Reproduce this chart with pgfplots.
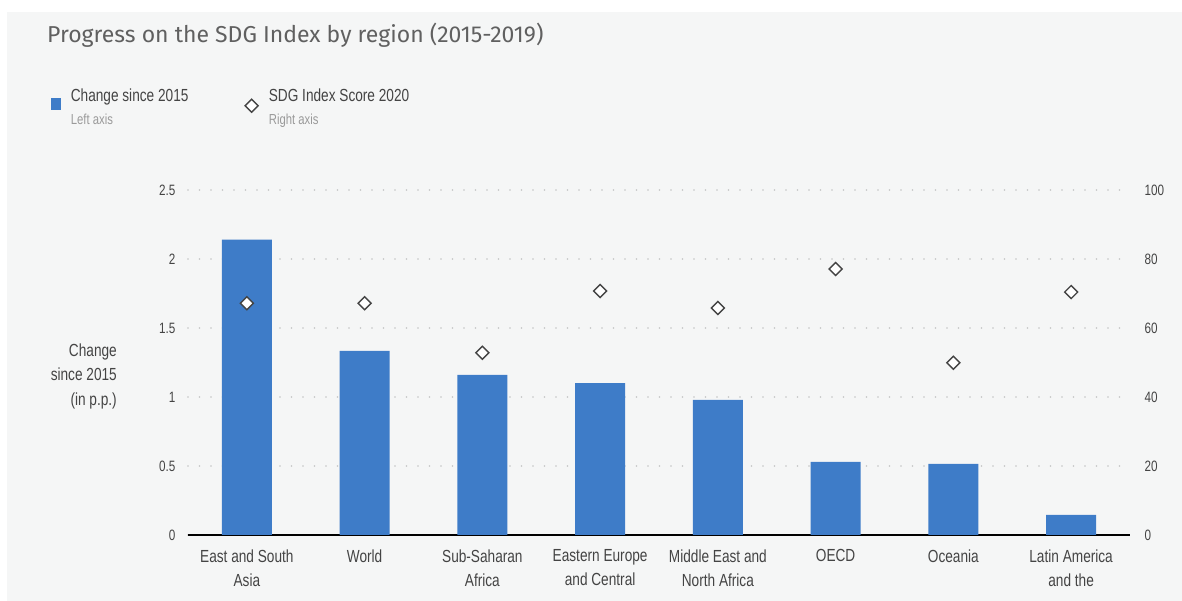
\documentclass[border=0pt]{standalone}
\usepackage{pgfplots}
\pgfplotsset{compat=1.18}
\usepackage{fontspec}
\setmainfont[FakeStretch=0.78]{Liberation Sans}
\newfontfamily\titlefont{Fira Sans}
\definecolor{bg}{HTML}{F5F6F6}
\definecolor{barblue}{HTML}{3E7CC8}
\definecolor{txt}{HTML}{444444}
\definecolor{ltxt}{HTML}{9A9A9A}
\definecolor{gridc}{HTML}{C4C4C4}
\begin{document}
\begin{tikzpicture}[x=1pt,y=1pt]
\path[use as bounding box] (0,0) rectangle (1182,601);
\fill[white] (0,0) rectangle (1182,601);
\fill[bg] (7,0) rectangle (1182,589);
\node[anchor=west, text=txt!85, font=\titlefont\fontsize{23}{26}\selectfont, inner sep=0pt] at (47,566) {Progress on the SDG Index by region (2015-2019)};
\node[anchor=east, align=right, text=txt, font=\fontsize{17.5}{24.5}\selectfont, inner sep=0pt] at (117,225) {Change\\since 2015\\(in p.p.)};
\begin{axis}[
  at={(188pt,66pt)}, anchor=south west,
  scale only axis, width=942pt, height=345pt,
  xmin=-0.5, xmax=7.5, ymin=0, ymax=2.5,
  axis x line*=bottom, axis y line*=left,
  x axis line style={line width=2pt, black, -},
  y axis line style={draw=none},
  major tick length=0pt,
  ytick={0,0.5,1,1.5,2,2.5},
  xtick={0,...,7},
  xticklabels={East and South\\Asia, World, Sub-Saharan\\Africa, Eastern Europe\\and Central, Middle East and\\North Africa, OECD, Oceania, Latin America\\and the},
  xticklabel style={align=center, font=\fontsize{17.5}{24}\selectfont, text=txt, yshift=-11pt},
  yticklabel style={font=\fontsize{15}{16}\selectfont, text=txt, xshift=-9pt},
  /pgf/number format/assume math mode=true,
  ymajorgrids,
  grid style={gridc, line width=1.8pt, line cap=round, dash pattern=on 0pt off 11.5pt},
  ybar, bar width=50pt,
  legend columns=2,
  legend style={at={(-0.149,1.306)}, anchor=north west, draw=none, fill=none,
    font=\fontsize{17.5}{18}\selectfont, text=txt,
    nodes={align=left, inner xsep=10pt},
    /tikz/every even column/.append style={column sep=46pt}},
  legend cell align=left,
]
\addplot[fill=barblue, draw=none, area legend,
  legend image code/.code={\fill[barblue] (0pt,-3pt) rectangle (10pt,9pt);}]
  coordinates {(0,2.14) (1,1.335) (2,1.16) (3,1.10) (4,0.98) (5,0.53) (6,0.515) (7,0.145)};
\addlegendentry{Change since 2015\\[5pt]{\fontsize{14.5}{16}\selectfont\color{ltxt}Left axis}}
\addlegendimage{legend image code/.code={\draw[txt, line width=1.4pt, fill=white] (4.5pt,8pt) -- (11pt,1.5pt) -- (4.5pt,-5pt) -- (-2pt,1.5pt) -- cycle;}}
\addlegendentry{SDG Index Score 2020\\[5pt]{\fontsize{14.5}{16}\selectfont\color{ltxt}Right axis}}
\end{axis}
\begin{axis}[
  at={(188pt,66pt)}, anchor=south west,
  scale only axis, width=942pt, height=345pt,
  xmin=-0.5, xmax=7.5, ymin=0, ymax=100,
  axis x line=none, axis y line*=right,
  y axis line style={draw=none},
  major tick length=0pt,
  ytick={0,20,...,100},
  yticklabel style={font=\fontsize{15}{16}\selectfont, text=txt, xshift=11pt},
  /pgf/number format/assume math mode=true,
]
\addplot[only marks, mark=square*, mark size=4.6pt, mark options={fill=white, draw=txt, line width=1.4pt, rotate=45}]
  coordinates {(0,67.2) (1,67.2) (2,52.8) (3,70.7) (4,65.8) (5,77.1) (6,49.9) (7,70.4)};
\end{axis}
\end{tikzpicture}
\end{document}
